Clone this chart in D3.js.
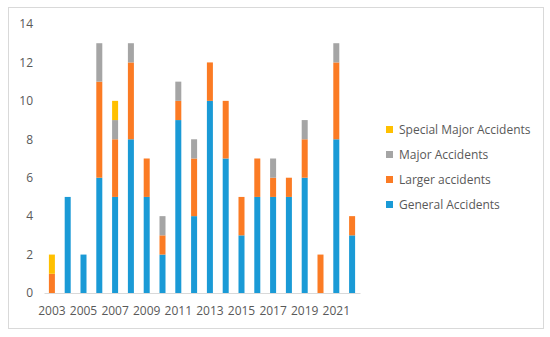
<!DOCTYPE html>
<html>
<head>
<meta charset="utf-8">
<script src="https://cdn.jsdelivr.net/npm/d3@7"></script>
<style>
  body { margin: 0; background: #fff; }
  text { font-family: "Open Sans", sans-serif; fill: #595959; }
</style>
</head>
<body>
<div id="chart"></div>
<script>
const years = d3.range(2003, 2023)
const general = [0, 5, 2, 6, 5, 8, 5, 2, 9, 4, 10, 7, 3, 5, 5, 5, 6, 0, 8, 3]
const larger  = [1, 0, 0, 5, 3, 4, 2, 1, 1, 3, 2, 3, 2, 2, 1, 1, 2, 2, 4, 1]
const major   = [0, 0, 0, 2, 1, 1, 0, 1, 1, 1, 0, 0, 0, 0, 1, 0, 1, 0, 1, 0]
const special = [1, 0, 0, 0, 1, 0, 0, 0, 0, 0, 0, 0, 0, 0, 0, 0, 0, 0, 0, 0]
const seriesNames = ['General Accidents', 'Larger accidents', 'Major Accidents', 'Special Major Accidents']
const colors = ['#1a9ad6', '#fb7b24', '#a5a5a5', '#ffc000']
const yTicks = [0, 2, 4, 6, 8, 10, 12, 14]

const chart_width = 550
const chart_height = 337

var svg = d3.select('#chart')
    .append('svg')
    .attr('width', chart_width)
    .attr('height', chart_height)

// outer frame
svg.append('rect')
    .attr('x', 8.5)
    .attr('y', 7.5)
    .attr('width', 535)
    .attr('height', 321)
    .attr('fill', 'none')
    .attr('stroke', '#d9d9d9')

var rows = years.map(function(y, i){
    return {year: y, g: general[i], l: larger[i], m: major[i], s: special[i]}
})
var stack = d3.stack().keys(['g', 'l', 'm', 's'])(rows)

var x_scale = d3.scaleBand()
    .domain(years)
    .range([44, 360])
    .paddingInner(0.62)
    .paddingOuter(0.31)

var y_scale = d3.scaleLinear()
    .domain([0, 14])
    .range([293, 24])

// bars
svg.append('g')
    .selectAll('g')
    .data(stack)
    .enter()
    .append('g')
    .attr('fill', function(d, i){ return colors[i] })
    .selectAll('rect')
    .data(function(d){ return d })
    .enter()
    .append('rect')
    .attr('x', function(d){ return x_scale(d.data.year) })
    .attr('y', function(d){ return y_scale(d[1]) })
    .attr('width', x_scale.bandwidth())
    .attr('height', function(d){ return y_scale(d[0]) - y_scale(d[1]) })

// axes
var y_axis = d3.axisLeft(y_scale).tickValues(yTicks).tickSize(0).tickPadding(11)
svg.append('g')
    .attr('transform', 'translate(44,0)')
    .call(y_axis)
    .call(function(g){ g.select('.domain').remove() })
    .selectAll('text')
    .style('font-size', '12px')
    .attr('fill', '#595959')

var x_axis = d3.axisBottom(x_scale)
    .tickValues(years.filter(function(y){ return (y - 2003) % 2 === 0 }))
    .tickSize(0)
    .tickPadding(13)
svg.append('g')
    .attr('transform', 'translate(0,293)')
    .call(x_axis)
    .call(function(g){ g.select('.domain').attr('stroke', '#d9d9d9') })
    .selectAll('text')
    .style('font-size', '12px')
    .attr('fill', '#595959')

// legend
var legend = svg.append('g')
    .selectAll('g')
    .data(seriesNames.slice().reverse())
    .enter()
    .append('g')
    .attr('transform', function(d, i){ return 'translate(386,' + (129 + i * 25) + ')' })
legend.append('rect')
    .attr('x', 0)
    .attr('y', -3)
    .attr('width', 7)
    .attr('height', 7)
    .attr('fill', function(d, i){ return colors[3 - i] })
legend.append('text')
    .attr('x', 13)
    .attr('y', 4.5)
    .style('font-size', '12px')
    .text(function(d){ return d })
</script>
</body>
</html>
